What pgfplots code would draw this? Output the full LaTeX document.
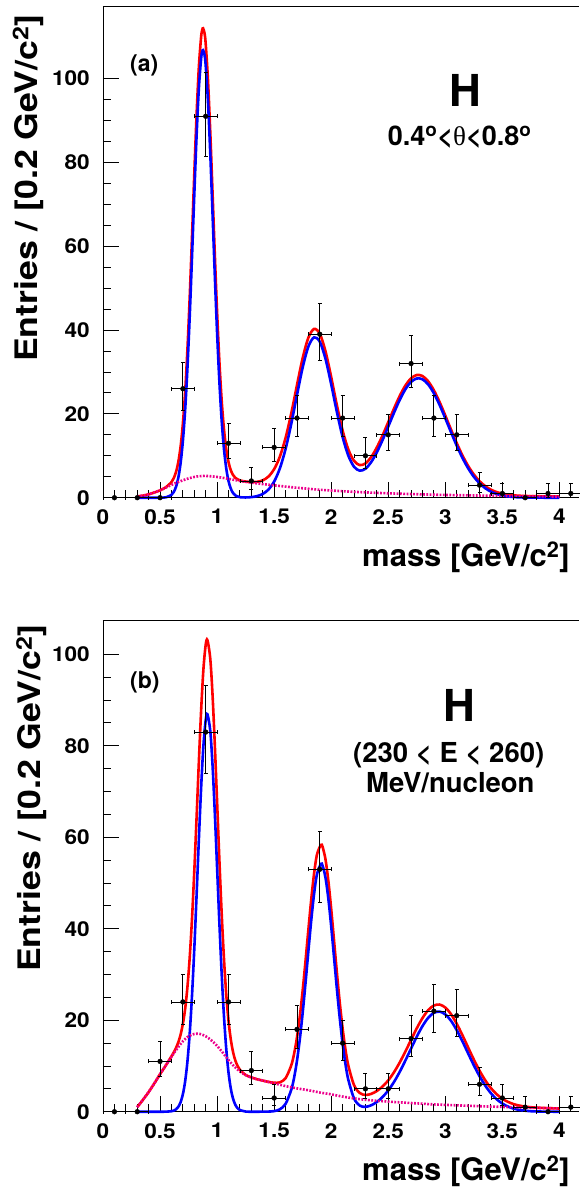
\documentclass[border=0pt]{standalone}
\usepackage{fontspec}
\setmainfont{TeX Gyre Heros}
\newfontfamily\symfont{Liberation Serif}
\usepackage{pgfplots}
\usepackage{pgfplotstable}
\pgfplotsset{compat=1.18}

\pgfplotstableread{
x y ex ep em
0.1 0 0.1 0 0
0.3 0 0.1 0 0
0.5 0 0.1 0 0
0.7 26 0.1 6.17 5.06
0.9 91 0.1 10.58 9.52
1.1 13 0.1 4.71 3.55
1.3 4 0.1 3.16 1.91
1.5 12 0.1 4.57 3.41
1.7 19 0.1 5.44 4.32
1.9 39 0.1 7.30 6.22
2.1 19 0.1 5.44 4.32
2.3 10 0.1 4.27 3.11
2.5 15 0.1 4.97 3.83
2.7 32 0.1 6.72 5.63
2.9 19 0.1 5.44 4.32
3.1 15 0.1 4.97 3.83
3.3 3 0.1 2.92 1.63
3.5 1 0.1 2.30 0.83
3.7 0 0.1 0 0
3.9 1 0.1 2.30 0.83
4.1 1 0.1 2.30 0.83
}\dataA

\pgfplotstableread{
x y ex ep em
0.1 0 0.1 0 0
0.3 0 0.1 0 0
0.5 11 0.1 4.43 3.26
0.7 24 0.1 5.97 4.86
0.9 83 0.1 10.15 9.09
1.1 24 0.1 5.97 4.86
1.3 9 0.1 4.12 2.94
1.5 3 0.1 2.92 1.63
1.7 18 0.1 5.33 4.20
1.9 53 0.1 8.33 7.25
2.1 15 0.1 4.97 3.83
2.3 5 0.1 3.38 2.16
2.5 5 0.1 3.38 2.16
2.7 16 0.1 5.09 3.95
2.9 22 0.1 5.77 4.65
3.1 21 0.1 5.66 4.54
3.3 6 0.1 3.58 2.38
3.5 3 0.1 2.92 1.63
3.7 1 0.1 2.30 0.83
3.9 0 0.1 0 0
4.1 1 0.1 2.30 0.83
}\dataB

\pgfplotsset{
  rootaxis/.style={
    scale only axis, width=475.8pt, height=491.7pt,
    anchor=south west,
    xmin=0, xmax=4.17, ymin=0,
    axis x line=box, axis y line=left,
    axis line style={-, line width=0.9pt, black},
    every outer x axis line/.append style={-},
    every outer y axis line/.append style={-},
    every inner x axis line/.append style={-},
    every inner y axis line/.append style={-},
    xtick={0,0.5,1,1.5,2,2.5,3,3.5,4},
    xticklabels={0,0.5,1,1.5,2,2.5,3,3.5,4},
    ytick={0,20,40,60,80,100},
    minor x tick num=4, minor y tick num=3,
    tick align=inside, xtick pos=left, ytick pos=left,
    major tick length=15.5pt, minor tick length=7.7pt,
    tick style={black, line width=0.9pt},
    ticklabel style={font=\fontsize{20.5}{20.5}\selectfont\bfseries, xscale=1.1},
    /pgf/number format/assume math mode=true,
    xticklabel style={yshift=-8.0pt},
    yticklabel style={xshift=-8.5pt},
    xlabel={mass [GeV/c\textsuperscript{2}]},
    xlabel style={at={(axis description cs:0.9815,-0.122)}, anchor=east,
      font=\fontsize{31}{31}\selectfont\bfseries, inner sep=0pt},
    ylabel={Entries / [0.2 GeV/c\textsuperscript{2}]},
    ylabel style={anchor=east, font=\fontsize{31}{31}\selectfont\bfseries, inner sep=0pt, xscale=1.15},
    clip=false,
  },
  datapts/.style={only marks, mark=*, mark size=2.4pt, black,
    error bars/.cd, x dir=both, x explicit, y dir=both, y explicit,
    error bar style={line width=0.8pt, black},
    error mark options={rotate=90, mark size=2pt, line width=0.8pt, black}},
  redfit/.style={red, line width=2.6pt, smooth, no marks},
  bluefit/.style={blue, line width=2.6pt, smooth, no marks},
  bgfit/.style={magenta, line width=2.6pt, dash pattern=on 1.8pt off 1.5pt, smooth, no marks},
}

\begin{document}
\begin{tikzpicture}
\path[use as bounding box] (0pt,0pt) rectangle (579pt,-1187pt);

% ---------------- panel (a) ----------------
\begin{axis}[rootaxis, at={(103pt,-497.7pt)}, ymax=117.3,
  ylabel style={at={(axis description cs:-0.1576,0.9837)}}]
\addplot[redfit] coordinates {
(0.30,0.30) (0.35,0.50) (0.40,0.80) (0.45,1.25) (0.50,1.76) (0.55,2.49) (0.60,3.72)
(0.62,4.65) (0.64,6.14) (0.66,8.51) (0.68,12.18) (0.70,17.64) (0.72,25.28) (0.74,35.42)
(0.76,47.90) (0.78,62.17) (0.80,77.15) (0.82,91.21) (0.84,102.68) (0.86,109.95) (0.87,111.63)
(0.877,111.99) (0.89,110.80) (0.90,108.34) (0.92,99.69) (0.94,87.29) (0.96,72.82) (0.98,58.00)
(1.00,44.25) (1.02,32.53) (1.04,23.24) (1.06,16.39) (1.08,11.62) (1.10,8.50) (1.12,6.56)
(1.14,5.41) (1.16,4.74) (1.20,4.13) (1.25,3.86) (1.30,3.74) (1.35,3.79) (1.40,4.14)
(1.45,5.04) (1.50,6.80) (1.55,9.79) (1.60,14.27) (1.65,20.14) (1.70,26.86) (1.75,33.32)
(1.80,38.19) (1.85,40.27) (1.90,39.12) (1.95,34.93) (2.00,28.78) (2.05,22.05) (2.10,16.03)
(2.15,11.51) (2.20,8.79) (2.25,7.78) (2.30,8.18) (2.35,9.68) (2.40,11.99) (2.45,14.84)
(2.50,18.03) (2.55,21.24) (2.60,24.25) (2.65,26.76) (2.70,28.49) (2.75,29.28) (2.80,29.03)
(2.85,27.77) (2.90,25.63) (2.95,22.82) (3.00,19.60) (3.05,16.26) (3.10,13.04) (3.15,10.10)
(3.20,7.59) (3.25,5.54) (3.30,3.94) (3.35,2.76) (3.40,1.91) (3.45,1.34) (3.50,0.96)
(3.55,0.72) (3.60,0.56) (3.65,0.47) (3.70,0.41) (3.80,0.35) (3.90,0.31) (4.00,0.28)
};
\addplot[bluefit] coordinates {
(0.30,0) (0.35,0) (0.40,0) (0.45,0) (0.50,0.01) (0.55,0.09) (0.60,0.67) (0.62,1.36)
(0.64,2.61) (0.66,4.76) (0.68,8.23) (0.70,13.49) (0.72,20.95) (0.74,30.91) (0.76,43.23)
(0.78,57.36) (0.80,72.20) (0.82,86.18) (0.84,97.57) (0.86,104.78) (0.87,106.45) (0.877,106.80)
(0.89,105.61) (0.90,103.14) (0.92,94.53) (0.94,82.17) (0.96,67.75) (0.98,52.99) (1.00,39.30)
(1.02,27.66) (1.04,18.45) (1.06,11.69) (1.08,7.02) (1.10,4.00) (1.12,2.16) (1.14,1.11)
(1.16,0.54) (1.20,0.13) (1.25,0.06) (1.30,0.14) (1.35,0.37) (1.40,0.89) (1.45,1.94)
(1.50,3.85) (1.55,6.99) (1.60,11.62) (1.65,17.63) (1.70,24.48) (1.75,31.07) (1.80,36.06)
(1.85,38.26) (1.90,37.22) (1.95,33.12) (2.00,27.06) (2.05,20.42) (2.10,14.48) (2.15,10.04)
(2.20,7.39) (2.25,6.45) (2.30,6.91) (2.35,8.47) (2.40,10.84) (2.45,13.74) (2.50,16.98)
(2.55,20.24) (2.60,23.30) (2.65,25.85) (2.70,27.62) (2.75,28.45) (2.80,28.24) (2.85,27.02)
(2.90,24.91) (2.95,22.13) (3.00,18.94) (3.05,15.63) (3.10,12.43) (3.15,9.52) (3.20,7.03)
(3.25,5.00) (3.30,3.43) (3.35,2.27) (3.40,1.44) (3.45,0.89) (3.50,0.52) (3.55,0.30)
(3.60,0.16) (3.65,0.09) (3.70,0.04) (3.80,0.01) (3.90,0) (4.00,0)
};
\addplot[bgfit] coordinates {
(0.30,0.30) (0.35,0.50) (0.40,0.80) (0.45,1.25) (0.50,1.75) (0.55,2.40) (0.60,3.05)
(0.65,3.65) (0.70,4.15) (0.75,4.60) (0.80,4.95) (0.85,5.15) (0.90,5.20) (0.95,5.10)
(1.00,4.95) (1.05,4.75) (1.10,4.50) (1.15,4.25) (1.20,4.00) (1.25,3.80) (1.30,3.60)
(1.35,3.42) (1.40,3.25) (1.45,3.10) (1.50,2.95) (1.60,2.65) (1.70,2.38) (1.80,2.13)
(1.90,1.90) (2.00,1.72) (2.10,1.55) (2.20,1.40) (2.30,1.27) (2.40,1.15) (2.50,1.05)
(2.60,0.95) (2.70,0.87) (2.80,0.79) (2.90,0.72) (3.00,0.66) (3.20,0.56) (3.40,0.47)
(3.60,0.40) (3.80,0.34) (4.00,0.28)
};
\addplot[datapts] table[x=x, y=y, x error=ex, y error plus=ep, y error minus=em] {\dataA};
\node[anchor=west, font=\fontsize{23}{23}\selectfont\bfseries, inner sep=0pt]
  at (axis description cs:0.0567,0.880) {(a)};
\node[anchor=base, font=\fontsize{44}{44}\selectfont\bfseries, inner sep=0pt]
  at (axis description cs:0.7608,0.7952) {H};
\node[anchor=base, font=\fontsize{27}{27}\selectfont\bfseries, inner sep=0pt]
  at (axis description cs:0.7497,0.7159) {0.4\textsuperscript{o}<{\symfont\mdseries θ}<0.8\textsuperscript{o}};
\end{axis}

% ---------------- panel (b) ----------------
\begin{axis}[rootaxis, at={(103pt,-1111.7pt)}, ymax=107.5,
  ylabel style={at={(axis description cs:-0.150,0.9918)}}]
\addplot[redfit] coordinates {
(0.30,1.00) (0.35,2.60) (0.40,4.30) (0.45,6.20) (0.50,8.20) (0.55,10.11) (0.60,12.11)
(0.62,12.96) (0.64,13.96) (0.66,15.19) (0.68,16.84) (0.70,19.22) (0.72,22.48) (0.74,27.25)
(0.76,33.73) (0.78,42.15) (0.80,52.54) (0.82,64.21) (0.84,76.41) (0.86,87.72) (0.88,96.69)
(0.90,102.09) (0.915,103.13) (0.94,99.08) (0.96,91.15) (0.98,80.19) (1.00,67.73) (1.02,55.04)
(1.04,43.42) (1.06,33.56) (1.08,25.73) (1.10,19.89) (1.12,15.81) (1.14,13.02) (1.16,11.18)
(1.18,9.99) (1.20,9.16) (1.25,8.04) (1.30,7.50) (1.35,7.10) (1.40,6.81) (1.45,6.53)
(1.50,6.33) (1.55,6.42) (1.60,7.32) (1.65,10.14) (1.675,12.69) (1.70,16.22) (1.725,20.86)
(1.75,26.51) (1.775,32.97) (1.80,39.80) (1.825,46.40) (1.85,52.08) (1.875,56.20) (1.91,58.35)
(1.925,57.87) (1.95,55.17) (1.975,50.47) (2.00,44.31) (2.025,37.39) (2.05,30.36) (2.075,23.88)
(2.10,18.21) (2.125,13.61) (2.15,10.10) (2.20,5.82) (2.25,4.09) (2.30,3.66) (2.35,3.90)
(2.40,4.53) (2.45,5.51) (2.50,6.85) (2.55,8.62) (2.60,10.74) (2.65,13.16) (2.70,15.71)
(2.75,18.24) (2.80,20.47) (2.85,22.21) (2.90,23.22) (2.95,23.43) (3.00,22.78) (3.05,21.33)
(3.10,19.24) (3.15,16.74) (3.20,14.05) (3.25,11.40) (3.30,8.97) (3.35,6.87) (3.40,5.15)
(3.45,3.82) (3.50,2.83) (3.55,2.14) (3.60,1.65) (3.65,1.33) (3.70,1.12) (3.75,0.98)
(3.80,0.89) (3.90,0.78) (4.00,0.70)
};
\addplot[bluefit] coordinates {
(0.30,0) (0.40,0) (0.50,0) (0.55,0.01) (0.60,0.11) (0.62,0.24) (0.64,0.52) (0.66,1.07)
(0.68,2.08) (0.70,3.82) (0.72,6.64) (0.74,10.97) (0.76,17.13) (0.78,25.35) (0.80,35.54)
(0.82,47.21) (0.84,59.41) (0.86,70.82) (0.88,79.99) (0.90,85.59) (0.915,86.90) (0.94,83.30)
(0.96,75.79) (0.98,65.31) (1.00,53.33) (1.02,41.24) (1.04,30.22) (1.06,20.98) (1.08,13.79)
(1.10,8.59) (1.12,5.07) (1.14,2.84) (1.16,1.50) (1.18,0.75) (1.20,0.36) (1.25,0.04)
(1.30,0) (1.35,0) (1.40,0.01) (1.45,0.03) (1.50,0.13) (1.55,0.52) (1.60,1.72) (1.65,4.79)
(1.675,7.46) (1.70,11.12) (1.725,15.86) (1.75,21.61) (1.775,28.17) (1.80,35.10) (1.825,41.82)
(1.85,47.63) (1.875,51.87) (1.91,54.20) (1.925,53.77) (1.95,51.17) (1.975,46.57) (2.00,40.51)
(2.025,33.71) (2.05,26.81) (2.075,20.45) (2.10,14.91) (2.125,10.41) (2.15,7.00) (2.20,2.92)
(2.25,1.34) (2.30,1.06) (2.35,1.40) (2.40,2.13) (2.45,3.21) (2.50,4.65) (2.55,6.49)
(2.60,8.69) (2.65,11.18) (2.70,13.81) (2.75,16.41) (2.80,18.72) (2.85,20.53) (2.90,21.62)
(2.95,21.88) (3.00,21.28) (3.05,19.88) (3.10,17.84) (3.15,15.39) (3.20,12.75) (3.25,10.15)
(3.30,7.77) (3.35,5.71) (3.40,4.03) (3.45,2.73) (3.50,1.78) (3.55,1.12) (3.60,0.67)
(3.65,0.39) (3.70,0.22) (3.75,0.11) (3.80,0.06) (3.90,0.01) (4.00,0)
};
\addplot[bgfit] coordinates {
(0.30,1.0) (0.35,2.6) (0.40,4.3) (0.45,6.2) (0.50,8.2) (0.55,10.1) (0.60,12.0) (0.65,13.8)
(0.70,15.4) (0.75,16.5) (0.80,17.0) (0.85,17.0) (0.90,16.5) (0.95,15.6) (1.00,14.4)
(1.05,12.9) (1.10,11.3) (1.15,9.9) (1.20,8.8) (1.25,8.0) (1.30,7.5) (1.35,7.1) (1.40,6.8)
(1.45,6.5) (1.50,6.2) (1.55,5.9) (1.60,5.6) (1.65,5.35) (1.70,5.1) (1.75,4.9) (1.80,4.7)
(1.85,4.45) (1.90,4.2) (1.95,4.0) (2.00,3.8) (2.05,3.55) (2.10,3.3) (2.15,3.1) (2.20,2.9)
(2.25,2.75) (2.30,2.6) (2.35,2.5) (2.40,2.4) (2.45,2.3) (2.50,2.2) (2.60,2.05) (2.70,1.9)
(2.80,1.75) (2.90,1.6) (3.00,1.5) (3.10,1.4) (3.20,1.3) (3.30,1.2) (3.40,1.12) (3.50,1.05)
(3.60,0.98) (3.70,0.9) (3.80,0.83) (3.90,0.77) (4.00,0.7)
};
\addplot[datapts] table[x=x, y=y, x error=ex, y error plus=ep, y error minus=em] {\dataB};
\node[anchor=west, font=\fontsize{23}{23}\selectfont\bfseries, inner sep=0pt]
  at (axis description cs:0.0567,0.8739) {(b)};
\node[anchor=base, font=\fontsize{44}{44}\selectfont\bfseries, inner sep=0pt]
  at (axis description cs:0.7497,0.7932) {H};
\node[anchor=base, font=\fontsize{27.5}{27.5}\selectfont\bfseries, inner sep=0pt]
  at (axis description cs:0.7266,0.7098) {(230 < E < 260)};
\node[anchor=base, font=\fontsize{27.5}{27.5}\selectfont\bfseries, inner sep=0pt]
  at (axis description cs:0.7300,0.6488) {MeV/nucleon};
\end{axis}
\end{tikzpicture}
\end{document}
